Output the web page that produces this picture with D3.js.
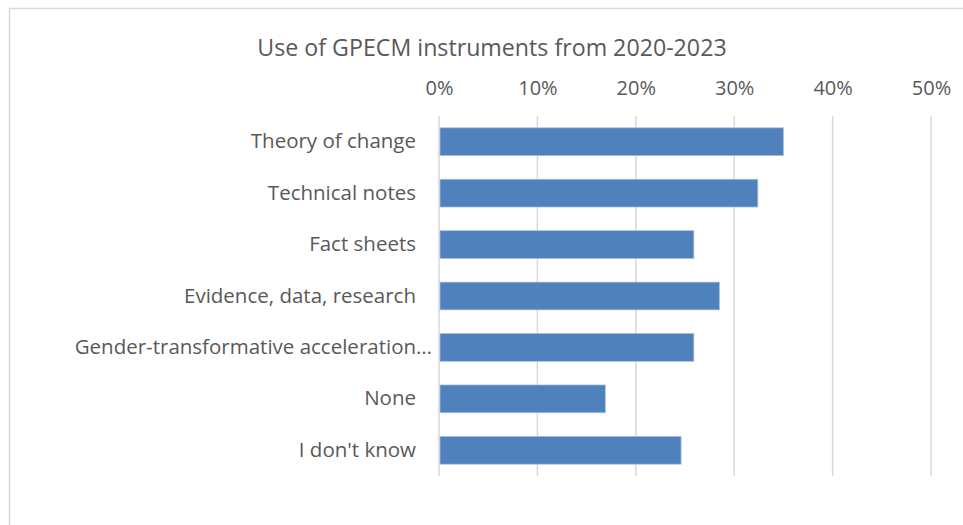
<!DOCTYPE html>
<html>
<head>
<meta charset="utf-8">
<script src="https://cdn.jsdelivr.net/npm/d3@7"></script>
<style>
  body { margin: 0; background: #fff; }
  svg { font-family: "Open Sans", "Noto Sans", sans-serif; }
</style>
</head>
<body>
<div id="chart"></div>
<script>
// data
var categories = ["Theory of change", "Technical notes", "Fact sheets", "Evidence, data, research",
                  "Gender-transformative acceleration…", "None", "I don't know"];
var values = [0.350, 0.324, 0.259, 0.285, 0.259, 0.169, 0.246];
var tickValues = [0, 0.1, 0.2, 0.3, 0.4, 0.5];
var title = "Use of GPECM instruments from 2020-2023";

var width = 963, height = 525;
var margin = {top: 116, left: 439, right: 32, bottom: 49};

var svg = d3.select("#chart").append("svg")
            .attr("width", width)
            .attr("height", height);

// chart frame (runs off the right and bottom edge)
svg.append("rect")
   .attr("x", 9.5).attr("y", 8.5)
   .attr("width", 980).attr("height", 540)
   .attr("fill", "none")
   .attr("stroke", "#d9d9d9")
   .attr("stroke-width", 1.5);

var x = d3.scaleLinear().domain([0, 0.5]).range([margin.left, width - margin.right]);
var y = d3.scaleBand().domain(categories)
          .range([margin.top, height - margin.bottom])
          .paddingInner(0.46).paddingOuter(0.23);

// gridlines
svg.append("g").selectAll("line")
   .data(tickValues)
   .enter().append("line")
   .attr("x1", function(d){ return x(d); })
   .attr("x2", function(d){ return x(d); })
   .attr("y1", margin.top)
   .attr("y2", height - margin.bottom)
   .attr("stroke", "#d9d9d9")
   .attr("stroke-width", 1.5);

// top axis labels
var xAxis = d3.axisTop(x).tickValues(tickValues).tickFormat(d3.format(".0%")).tickSize(0).tickPadding(0);
var gx = svg.append("g").attr("transform", "translate(0,95)").call(xAxis)
            .attr("font-family", null).attr("font-size", 20);
gx.select(".domain").remove();
gx.selectAll("text").attr("fill", "#595959");

// bars
svg.append("g").selectAll("rect")
   .data(values)
   .enter().append("rect")
   .attr("x", x(0) + 1)
   .attr("y", function(d, i){ return y(categories[i]); })
   .attr("width", function(d){ return x(d) - x(0) - 1; })
   .attr("height", y.bandwidth())
   .attr("fill", "#4f81bd")
   .attr("stroke", "#a7c0de")
   .attr("stroke-width", 0.75);

// category labels
var yAxis = d3.axisLeft(y).tickSize(0).tickPadding(23);
var gy = svg.append("g").attr("transform", "translate(" + margin.left + ",0)").call(yAxis)
            .attr("font-family", null).attr("font-size", 20.5);
gy.select(".domain").remove();
gy.selectAll("text").attr("fill", "#595959")
  .attr("dx", function(d){ return d.slice(-1) === "…" ? 16 : 0; }); // truncated label runs closer to the axis

// title
svg.append("text")
   .attr("x", 492).attr("y", 56)
   .attr("text-anchor", "middle")
   .attr("fill", "#595959")
   .style("font-size", "23.2px")
   .text(title);
</script>
</body>
</html>
